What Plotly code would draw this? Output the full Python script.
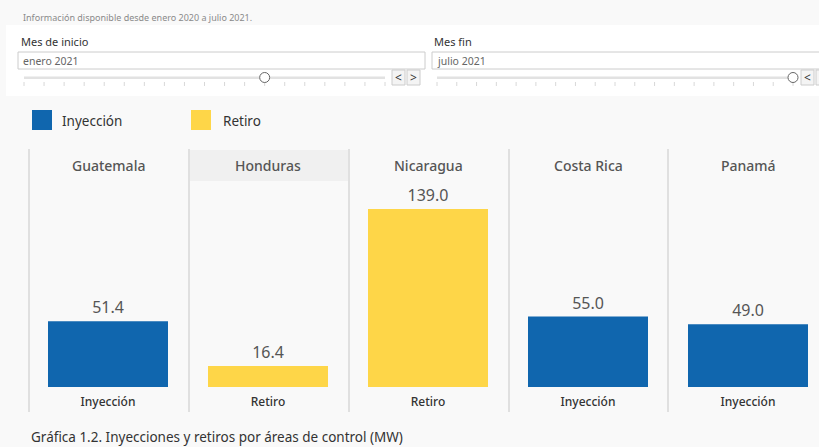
import plotly.graph_objects as go

# ---- data ----
countries = ["Guatemala", "Honduras", "Nicaragua", "Costa Rica", "Panamá"]
flow_type = ["Inyección", "Retiro", "Retiro", "Inyección", "Inyección"]
values_mw = [51.4, 16.4, 139.0, 55.0, 49.0]
legend_items = ["Inyección", "Retiro"]
months = ["enero 2020", "febrero 2020", "marzo 2020", "abril 2020", "mayo 2020", "junio 2020",
          "julio 2020", "agosto 2020", "septiembre 2020", "octubre 2020", "noviembre 2020",
          "diciembre 2020", "enero 2021", "febrero 2021", "marzo 2021", "abril 2021",
          "mayo 2021", "junio 2021", "julio 2021"]
start_month = "enero 2021"
end_month = "julio 2021"

W, H = 819, 447
BLUE = "#1066ae"
YELLOW = "#fed648"
BG = "#f9f9f9"
FONT = "Noto Sans"
colors = {"Inyección": BLUE, "Retiro": YELLOW}


def px(x):
    return x / W


def py(y):
    return 1 - y / H


fig = go.Figure()
fig.add_trace(go.Bar(
    x=countries, y=values_mw,
    marker=dict(color=[colors[t] for t in flow_type], line=dict(width=0)),
    width=0.75,
    text=[f"{v:.1f}" for v in values_mw],
    textposition="outside",
    textfont=dict(size=16, color="#555555", family=FONT),
    cliponaxis=False,
    hoverinfo="skip",
    showlegend=False,
))

shapes = []
annotations = []

# top info text
annotations.append(dict(x=px(21), y=py(17), xref="paper", yref="paper", xanchor="left", yanchor="middle",
                        text="Información disponible desde enero 2020 a julio 2021.", showarrow=False,
                        font=dict(size=9, color="#8a8a8a", family=FONT)))
# white filter panel
shapes.append(dict(type="rect", xref="paper", yref="paper", x0=px(6), x1=px(819), y0=py(25), y1=py(96),
                   fillcolor="white", line=dict(width=0), layer="below"))


def filter_block(label, x_label, box_x0, box_x1, value, track_x0, track_x1, idx, buttons):
    annotations.append(dict(x=px(x_label), y=py(41), xref="paper", yref="paper", xanchor="left", yanchor="middle",
                            text=label, showarrow=False,
                            font=dict(size=11, color="#333333", family=FONT)))
    shapes.append(dict(type="rect", xref="paper", yref="paper", x0=px(box_x0), x1=px(box_x1),
                       y0=py(52), y1=py(69), fillcolor="white", line=dict(color="#cccccc", width=1)))
    annotations.append(dict(x=px(box_x0 + 3), y=py(60.5), xref="paper", yref="paper", xanchor="left",
                            yanchor="middle", text=value, showarrow=False,
                            font=dict(size=10.5, color="#666666", family=FONT)))
    shapes.append(dict(type="rect", xref="paper", yref="paper", x0=px(track_x0), x1=px(track_x1),
                       y0=py(76.5), y1=py(79), fillcolor="#e2e2e2", line=dict(width=0)))
    n = len(months)
    step = (track_x1 - track_x0) / (n - 1)
    for i in range(n):
        xx = track_x0 + i * step
        shapes.append(dict(type="line", xref="paper", yref="paper", x0=px(xx), x1=px(xx),
                           y0=py(82), y1=py(86), line=dict(color="#d8d8d8", width=1)))
    tx = track_x0 + idx * step
    shapes.append(dict(type="circle", xref="paper", yref="paper", x0=px(tx - 5), x1=px(tx + 5),
                       y0=py(72.5), y1=py(82.5), fillcolor="white", line=dict(color="#666666", width=1)))
    for bx, ch in buttons:
        shapes.append(dict(type="rect", xref="paper", yref="paper", x0=px(bx), x1=px(bx + 13),
                           y0=py(70), y1=py(85), fillcolor="#f4f4f4", line=dict(color="#cccccc", width=1)))
        if ch:
            annotations.append(dict(x=px(bx + 6.5), y=py(77.5), xref="paper", yref="paper", xanchor="center",
                                    yanchor="middle", text=ch, showarrow=False,
                                    font=dict(size=12, color="#333333", family=FONT)))


filter_block("Mes de inicio", 19, 18, 425, start_month, 24, 385, months.index(start_month),
             [(392, "<"), (407, ">")])
filter_block("Mes fin", 432, 432, 830, end_month, 437, 793, months.index(end_month),
             [(801, "<"), (816, "")])

# legend
leg_pos = [(32, 60), (191, 221)]
for (sx, tx), name in zip(leg_pos, legend_items):
    shapes.append(dict(type="rect", xref="paper", yref="paper", x0=px(sx), x1=px(sx + 20),
                       y0=py(110), y1=py(130), fillcolor=colors[name], line=dict(width=0)))
    annotations.append(dict(x=px(tx), y=py(121), xref="paper", yref="paper", xanchor="left", yanchor="middle",
                            text=name, showarrow=False, font=dict(size=13.5, color="#333333", family=FONT)))

# Honduras header highlight
shapes.append(dict(type="rect", xref="paper", yref="paper", x0=px(190), x1=px(348), y0=py(150), y1=py(181),
                   fillcolor="#f0f0f0", line=dict(width=0), layer="below"))

# column separators
for sx in [29, 189, 349, 509, 668]:
    shapes.append(dict(type="line", xref="paper", yref="paper", x0=px(sx), x1=px(sx), y0=py(149), y1=py(412),
                       line=dict(color="#e0e0e0", width=2)))

# country headers
for c in countries:
    annotations.append(dict(x=c, y=py(165), xref="x", yref="paper", xanchor="center", yanchor="middle",
                            text=c, showarrow=False,
                            font=dict(size=14, color="#555555", family=FONT, weight=500)))

# caption
annotations.append(dict(x=px(29), y=py(437), xref="paper", yref="paper", xanchor="left", yanchor="middle",
                        text="Gráfica 1.2. Inyecciones y retiros por áreas de control (MW)", showarrow=False,
                        font=dict(size=13.5, color="#333333", family=FONT)))

fig.update_layout(
    width=W, height=H,
    margin=dict(l=0, r=0, t=0, b=0, autoexpand=False),
    paper_bgcolor=BG, plot_bgcolor=BG,
    shapes=shapes, annotations=annotations,
    bargap=0.25,
    xaxis=dict(domain=[px(28), 1], range=[-0.5, -0.5 + 791 / 160], type="category",
               tickvals=countries, ticktext=flow_type, showgrid=False, zeroline=False,
               showline=False, ticks="outside", ticklen=4, tickcolor="rgba(0,0,0,0)",
               tickfont=dict(size=12, color="#333333", family=FONT, weight=500), fixedrange=True),
    yaxis=dict(domain=[1 - 387 / H, 1 - 150 / H], range=[0, 237 / 1.28], visible=False, fixedrange=True),
    showlegend=False,
)

fig.write_html("out.html",
               config={"displayModeBar": False},
               post_script="document.body.style.margin='0px';document.body.style.background='#f9f9f9';"
                           "document.body.style.overflow='hidden';")
